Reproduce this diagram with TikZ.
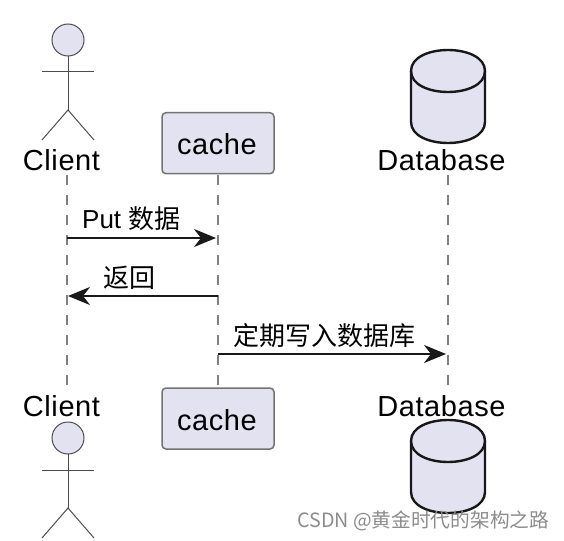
\documentclass[tikz,border=0pt]{standalone}
\usepackage{fontspec}
\setmainfont{Liberation Sans}
\newfontfamily\cjk{Noto Sans CJK SC}
\newfontfamily\lbl[LetterSpace=2]{Liberation Sans}
\usetikzlibrary{arrows.meta}
\definecolor{partfill}{RGB}{226,226,240}
\definecolor{partline}{RGB}{24,24,24}
\tikzset{
  actorline/.style={draw=black!70,line width=1pt},
  lifeline/.style={draw=black!50,line width=2pt,dash pattern=on 10pt off 10pt},
  msg/.style={draw=black!90,line width=2.4pt,-{Stealth[length=22pt,width=18pt,inset=7pt]}},
  partname/.style={inner sep=0pt,font=\fontsize{29}{29}\selectfont\lbl},
  msgtext/.style={inner sep=0pt,font=\fontsize{26}{26}\selectfont},
  cachebox/.style={draw=black!55,fill=partfill,rounded corners=4pt,line width=1.5pt,minimum width=112pt,minimum height=61pt,inner sep=0pt},
  dbbody/.style={draw=partline,fill=partfill,line width=2.4pt},
}
\newcommand{\actorfig}[2]{
  \draw[actorline,fill=partfill] (#1,#2+16) circle (16);
  \draw[actorline] (#1,#2+32) -- (#1,#2+86);
  \draw[actorline] (#1-26,#2+48) -- (#1+26,#2+48);
  \draw[actorline] (#1-26,#2+116) -- (#1,#2+86) -- (#1+26,#2+116);
}
\newcommand{\dbfig}[2]{
  \draw[dbbody] (#1-37,#2+21) .. controls (#1-37,#2-7) and (#1+37,#2-7) .. (#1+37,#2+21)
    -- (#1+37,#2+72) .. controls (#1+37,#2+100) and (#1-37,#2+100) .. (#1-37,#2+72) -- cycle;
  \draw[dbbody,fill=none] (#1-37,#2+21) .. controls (#1-37,#2+49) and (#1+37,#2+49) .. (#1+37,#2+21);
}
\begin{document}
\begin{tikzpicture}[x=1pt,y=-1pt]
\useasboundingbox (0,0) rectangle (564,540);
% lifelines
\coordinate (clientA) at (67,175);
\coordinate (clientB) at (67,388);
\coordinate (dbA) at (448,175);
\coordinate (dbB) at (448,388);
\node[cachebox] (cacheA) at (218,143.2) {};
\node[cachebox] (cacheB) at (218,418.5) {};
\draw[lifeline] (clientA) -- (clientB);
\draw[lifeline,shorten <=1pt] (cacheA.south) -- (cacheB.north);
\draw[lifeline] (dbA) -- (dbB);
% participants
\node[partname] (cacheAtext) at (217,144) {cache};
\node[partname] (cacheBtext) at (217,420) {cache};
\node[partname] (clientAname) at (61.5,160) {Client};
\node[partname] (clientBname) at (61.5,406) {Client};
\node[partname] (dbAname) at (441.5,160) {Database};
\node[partname] (dbBname) at (441.5,406) {Database};
\actorfig{68}{24}
\actorfig{68}{422}
\dbfig{448}{50}
\dbfig{448}{420}
% messages
\coordinate (putA) at (67,238);
\coordinate (putB) at (216,238);
\coordinate (retA) at (218,296);
\coordinate (retB) at (68,296);
\coordinate (saveA) at (218,354);
\coordinate (saveB) at (446,354);
\draw[msg] (putA) -- (putB);
\draw[msg] (retA) -- (retB);
\draw[msg] (saveA) -- (saveB);
\node[msgtext,anchor=base west] (putText) at (82,228) {Put {\cjk 数据}};
\node[msgtext,anchor=base west] (retText) at (103,287) {\cjk 返回};
\node[msgtext,anchor=base west] (saveText) at (233,345) {\cjk 定期写入数据库};
% watermark
\node[inner sep=0pt,anchor=base west,text=black!45,font=\fontsize{19.7}{20}\selectfont\cjk] (mark) at (297,527) {CSDN @黄金时代的架构之路};
\end{tikzpicture}
\end{document}
